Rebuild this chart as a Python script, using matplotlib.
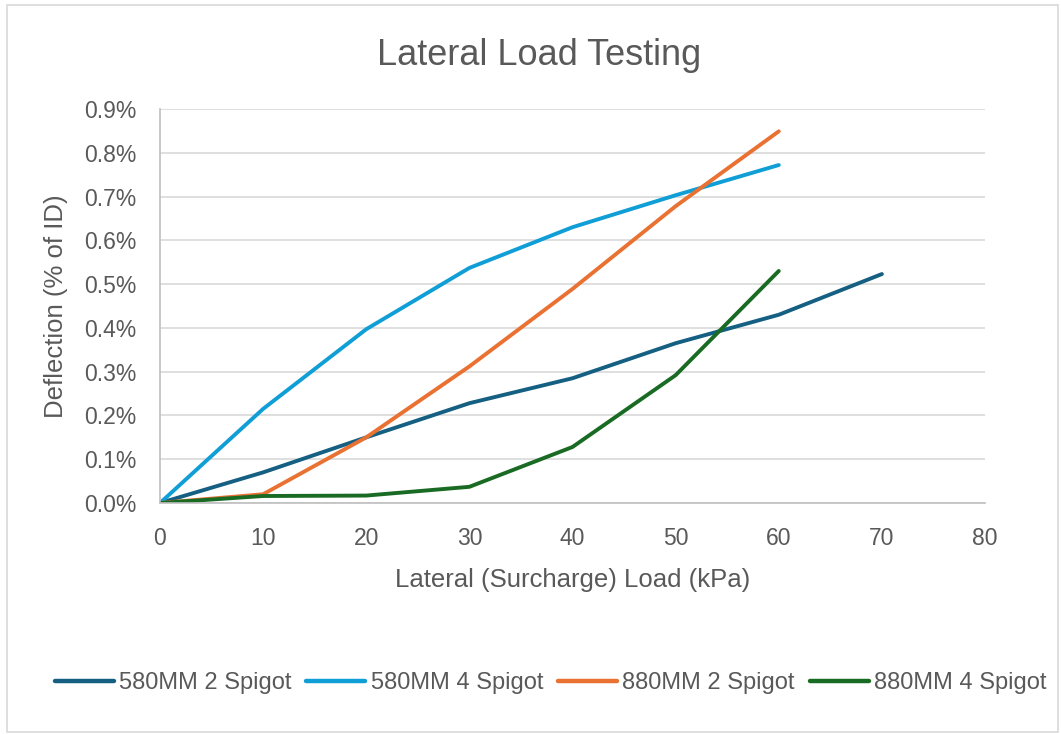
import matplotlib
matplotlib.use('Agg')
import matplotlib.pyplot as plt
import matplotlib.ticker as mtick
from matplotlib.patches import Rectangle

# Datos
load_kpa = [0, 10, 20, 30, 40, 50, 60, 70]
s580_2 = [0.0, 0.070, 0.150, 0.228, 0.285, 0.365, 0.430, 0.523]
s580_4 = [0.0, 0.215, 0.397, 0.537, 0.630, 0.703, 0.772]
s880_2 = [0.0, 0.020, 0.150, 0.312, 0.489, 0.678, 0.849]
s880_4 = [0.0, 0.016, 0.017, 0.037, 0.128, 0.292, 0.530]

series = [
    ('580MM 2 Spigot', s580_2, '#156082'),
    ('580MM 4 Spigot', s580_4, '#0F9ED5'),
    ('880MM 2 Spigot', s880_2, '#E97132'),
    ('880MM 4 Spigot', s880_4, '#196B24'),
]

plt.rcParams['font.family'] = ['Liberation Sans', 'DejaVu Sans']
text_color = '#595959'
grid_color = '#D9D9D9'

fig = plt.figure(figsize=(10.61, 7.34), dpi=100)
ax = fig.add_axes([0.1508, 0.3147, 0.7776, 0.5368])

for name, vals, color in series:
    ax.plot(load_kpa[:len(vals)], vals, color=color, lw=2.8, label=name,
            solid_capstyle='round', solid_joinstyle='round')

ax.set_xlim(0, 80)
ax.set_ylim(0, 0.9)
ax.set_xticks(range(0, 81, 10))
ax.set_yticks([i / 10 for i in range(10)])
ax.yaxis.set_major_formatter(mtick.FuncFormatter(lambda v, p: f'{v:.1f}%'))
ax.grid(axis='y', color=grid_color, lw=1.2)
ax.set_axisbelow(True)
for s in ['top', 'right']:
    ax.spines[s].set_visible(False)
for s in ['left', 'bottom']:
    ax.spines[s].set_color('#BFBFBF')
    ax.spines[s].set_linewidth(1.2)
ax.tick_params(length=0, labelsize=16.5, colors=text_color, pad=17)

# Títulos
fig.text(0.508, 0.925, 'Lateral Load Testing', fontsize=26, color=text_color,
         ha='center', va='center')
fig.text(0.540, 1 - 580 / 734, 'Lateral (Surcharge) Load (kPa)', fontsize=18.5,
         color=text_color, ha='center', va='center')
fig.text(56 / 1061, 1 - 306 / 734, 'Deflection (% of ID)', fontsize=18.5,
         color=text_color, ha='center', va='center', rotation=90)

leg = fig.legend(loc='center', bbox_to_anchor=(0.519, 1 - 683 / 734), ncol=4, frameon=False,
                 handlelength=2.5, handletextpad=0.22, columnspacing=0.64,
                 prop={'size': 17})
for t in leg.get_texts():
    t.set_color(text_color)
for h in leg.get_lines():
    h.set_linewidth(3.2)

# Marco del gráfico
fig.patches.append(Rectangle((0.007, 0.003), 0.99, 0.99, transform=fig.transFigure,
                             fill=False, edgecolor='#D9D9D9', lw=1.2))

fig.savefig('out.png', dpi=100)
